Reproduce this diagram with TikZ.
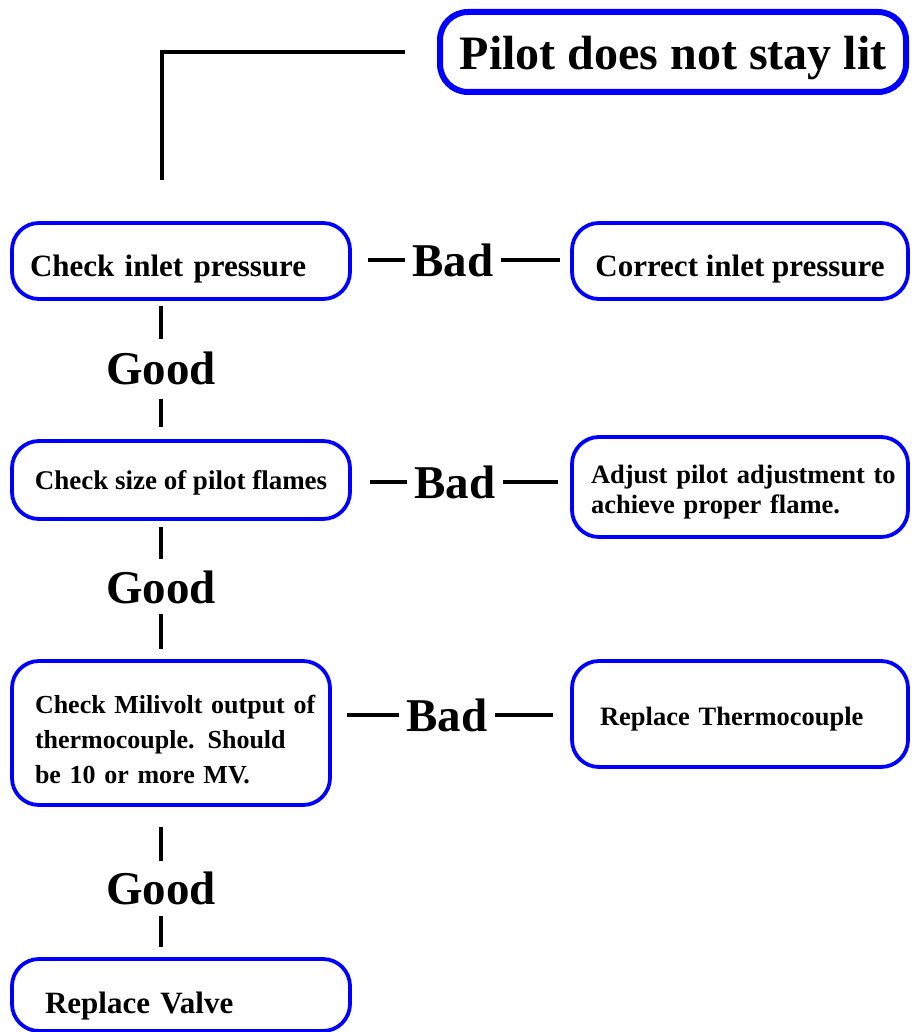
\documentclass[tikz,border=0pt]{standalone}
\usepackage{fontspec}
\setmainfont{Liberation Serif}
\begin{document}
\begin{tikzpicture}[x=1pt,y=-1pt,
  box/.style={draw=blue, line width=3.8pt, fill=white, rounded corners=27pt, inner sep=0pt,
    font=\bfseries\fontsize{27}{33}\selectfont},
  one/.style={text depth=0pt, text height=#1},
  conn/.style={draw=black, line width=4pt},
  lbl/.style={font=\bfseries\fontsize{47}{50}\selectfont, inner xsep=7pt, inner ysep=0pt}]
\useasboundingbox (0,0) rectangle (912,1032);
% title
\node[box, line width=6pt, rounded corners=28pt, minimum width=466pt, minimum height=80pt,
  one=36pt, font=\bfseries\fontsize{48}{50}\selectfont] (title) at (673,52) {Pilot does not stay lit};
% boxes
\node[box, minimum width=338pt, minimum height=76pt, one=30pt, text width=302pt, align=left,
  font=\bfseries\fontsize{31}{35}\selectfont] (b1) at (181,261) {Check inlet pressure};
\node[box, minimum width=336pt, minimum height=76pt, one=30pt, font=\bfseries\fontsize{31}{35}\selectfont] (b2) at (740,261) {Correct inlet pressure};
\node[box, minimum width=338pt, minimum height=78pt, one=18pt] (b3) at (181,480) {Check size of pilot flames};
\node[box, minimum width=336pt, minimum height=100pt, text width=298pt, align=left,
  font=\bfseries\fontsize{26.5}{30}\selectfont] (b4) at (740,487)
  {\rule{0pt}{28pt}\mbox{Adjust pilot adjustment to}\\\mbox{achieve proper flame.}};
\node[box, minimum width=318pt, minimum height=144pt, text width=272pt, align=left,
  font=\bfseries\fontsize{26}{35}\selectfont] (b5) at (171,733)
  {\rule{0pt}{32pt}\mbox{Check Milivolt output of}\\\mbox{thermocouple. Should}\\\mbox{be 10 or more MV.}};
\node[box, minimum width=336pt, minimum height=106pt, one=22pt, text width=280pt, align=left,
  font=\bfseries\fontsize{26.5}{30}\selectfont] (b6) at (740,714) {Replace Thermocouple};
\node[box, minimum width=338pt, minimum height=72pt, text width=272pt, align=left, one=36pt,
  font=\bfseries\fontsize{31}{35}\selectfont] (b7) at (181,995) {Replace Valve};
% labels
\node[lbl] (bad1) at (453,260) {Bad};
\node[lbl] (bad2) at (455,482) {Bad};
\node[lbl] (bad3) at (447,715) {Bad};
\node[lbl, inner sep=0pt] (good1) at (161,368) {Good};
\node[lbl, inner sep=0pt] (good2) at (161,587) {Good};
\node[lbl, inner sep=0pt] (good3) at (161,888) {Good};
\coordinate (c0) at (162,180);
% connectors
\draw[conn, shorten <=32pt] (title.west) -| (c0);
\draw[conn, shorten <=16pt] (b1.east |- bad1) -- (bad1.west);
\draw[conn, shorten >=10pt] (bad1.east) -- (b2.west |- bad1);
\draw[conn, shorten <=18pt] (b3.east |- bad2) -- (bad2.west);
\draw[conn, shorten >=12pt] (bad2.east) -- (b4.west |- bad2);
\draw[conn, shorten <=15pt] (b5.east |- bad3) -- (bad3.west);
\draw[conn, shorten >=17pt] (bad3.east) -- (b6.west |- bad3);
\draw[conn, shorten <=5pt, shorten >=12pt] (b1.south -| good1) -- (good1.north);
\draw[conn, shorten <=14pt, shorten >=12pt] (good1.south) -- (b3.north -| good1);
\draw[conn, shorten <=6pt, shorten >=11pt] (b3.south -| good2) -- (good2.north);
\draw[conn, shorten <=10pt, shorten >=10pt] (good2.south) -- (b5.north -| good2);
\draw[conn, shorten <=20pt, shorten >=10pt] (b5.south -| good3) -- (good3.north);
\draw[conn, shorten <=11pt, shorten >=10pt] (good3.south) -- (b7.north -| good3);
\end{tikzpicture}
\end{document}
